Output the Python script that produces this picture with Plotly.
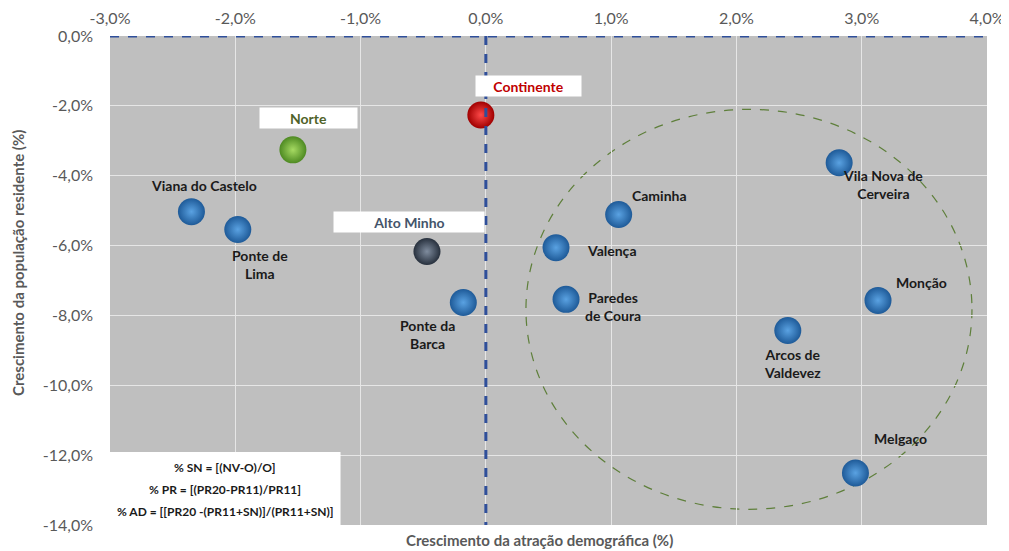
import plotly.graph_objects as go

# ---- data ----
municipios = ["Viana do Castelo", "Ponte de<br>Lima", "Ponte da<br>Barca", "Caminha", "Valença",
              "Paredes<br>de Coura", "Vila Nova de<br>Cerveira", "Monção", "Arcos de<br>Valdevez", "Melgaço"]
mun_x = [-2.35, -1.98, -0.18, 1.06, 0.56, 0.64, 2.82, 3.13, 2.41, 2.95]
mun_y = [-5.03, -5.54, -7.63, -5.11, -6.06, -7.54, -3.63, -7.57, -8.43, -12.51]

regioes = ["Continente", "Norte", "Alto Minho"]
reg_x = [-0.04, -1.54, -0.47]
reg_y = [-2.26, -3.26, -6.17]

x_tickvals = [-3, -2, -1, 0, 1, 2, 3, 4]
x_ticktext = ["-3,0%", "-2,0%", "-1,0%", "0,0%", "1,0%", "2,0%", "3,0%", "4,0%"]
y_tickvals = [0, -2, -4, -6, -8, -10, -12, -14]
y_ticktext = ["0,0%", "-2,0%", "-4,0%", "-6,0%", "-8,0%", "-10,0%", "-12,0%", "-14,0%"]

formulas = ["% SN = [(NV-O)/O]", "% PR = [(PR20-PR11)/PR11]", "% AD = [[PR20 -(PR11+SN)]/(PR11+SN)]"]

# ---- styles ----
FONT = "Lato"
GRAY = "#595959"

# label offsets in pixels (dx, dy up)
mun_off = [(13, 26), (22, -35), (-36, -32), (41, 19), (55, -3), (47, -7), (44, -22), (43, 18), (5, -33), (45, 34)]
reg_off = [(48, 29), (16, 32), (-18, 30)]
reg_box_w = [103, 95, 148]
reg_txt_col = ["#C00000", "#4F6228", "#44546A"]
reg_center = ["#FF4A4A", "#A6DA62", "#7F8C9E"]
reg_edge = ["#A00000", "#4E8A22", "#27303D"]

fig = go.Figure()

fig.add_trace(go.Scatter(
    x=mun_x, y=mun_y, mode="markers", hoverinfo="text", text=municipios,
    marker=dict(size=27, color="#1E5A98", gradient=dict(type="radial", color="#5AA2E2"),
                line=dict(width=0)),
    showlegend=False))

for i, name in enumerate(regioes):
    fig.add_trace(go.Scatter(
        x=[reg_x[i]], y=[reg_y[i]], mode="markers", hoverinfo="text", text=[name],
        marker=dict(size=27, color=reg_edge[i], gradient=dict(type="radial", color=reg_center[i]),
                    line=dict(width=0)),
        showlegend=False))

annotations = []
for name, x, y, (dx, dy) in zip(municipios, mun_x, mun_y, mun_off):
    annotations.append(dict(x=x, y=y, xref="x", yref="y", text=f"<b>{name}</b>", showarrow=False,
                            xshift=dx, yshift=dy, font=dict(family=FONT, size=14, color="#1a1a1a"),
                            align="center"))
for i, name in enumerate(regioes):
    dx, dy = reg_off[i]
    annotations.append(dict(x=reg_x[i], y=reg_y[i], xref="x", yref="y", text=f"<b>{name}</b>",
                            showarrow=False, xshift=dx, yshift=dy, width=reg_box_w[i], height=18,
                            bgcolor="white", font=dict(family=FONT, size=14, color=reg_txt_col[i]),
                            align="center"))

# formula lines (box drawn as shape)
for k, f in enumerate(formulas):
    annotations.append(dict(x=-3 + 0.92, y=-11.91 - 0.43 - 0.63 * k, xref="x", yref="y",
                            text=f"<b>{f}</b>", showarrow=False,
                            font=dict(family=FONT, size=12, color="#1a1a1a")))
# x axis title (bottom)
annotations.append(dict(x=(539 - 110) / 877, y=-15 / 489, xref="paper", yref="paper", yanchor="middle",
                        text="<b>Crescimento da atração demográfica (%)</b>", showarrow=False,
                        font=dict(family=FONT, size=15, color=GRAY)))
# y axis title (left)
annotations.append(dict(x=-92 / 877, y=(525 - 263) / 489, xref="paper", yref="paper", xanchor="center",
                        yanchor="middle", textangle=-90,
                        text="<b>Crescimento da população residente (%)</b>", showarrow=False,
                        font=dict(family=FONT, size=15, color=GRAY)))

shapes = [
    dict(type="circle", xref="x", yref="y", x0=0.32, x1=3.88, y0=-13.55, y1=-2.1,
         line=dict(color="#5E7F3A", width=1.2, dash="dash"), layer="below"),
    dict(type="line", xref="x", yref="y", x0=0, x1=0, y0=0, y1=-14,
         line=dict(color="#2F4F9A", width=3, dash="dash")),
    dict(type="line", xref="x", yref="y", x0=-3, x1=4, y0=0, y1=0,
         line=dict(color="#2F4F9A", width=3, dash="dash")),
    dict(type="rect", xref="x", yref="y", x0=-3, x1=-1.16, y0=-14, y1=-11.91,
         fillcolor="white", line=dict(width=0), layer="above"),
]

fig.update_layout(
    width=1001, height=543,
    margin=dict(l=102, r=22, t=28, b=26),
    paper_bgcolor="white", plot_bgcolor="#BFBFBF",
    font=dict(family=FONT, color=GRAY),
    annotations=annotations, shapes=shapes,
    xaxis=dict(range=[-3, 4], side="top", tickvals=x_tickvals, ticktext=x_ticktext,
               showgrid=True, gridcolor="#E6E6E6", gridwidth=1, zeroline=False,
               tickfont=dict(family=FONT, size=16, color=GRAY), ticks="", showline=False,
               ticklabelstandoff=8, fixedrange=True, automargin=False),
    yaxis=dict(range=[-14, 0], tickvals=y_tickvals, ticktext=y_ticktext,
               showgrid=True, gridcolor="#E6E6E6", gridwidth=1, zeroline=False,
               tickfont=dict(family=FONT, size=16, color=GRAY), ticks="", showline=False,
               ticklabelstandoff=16, fixedrange=True, automargin=False),
)

fig.write_html("out.html")
